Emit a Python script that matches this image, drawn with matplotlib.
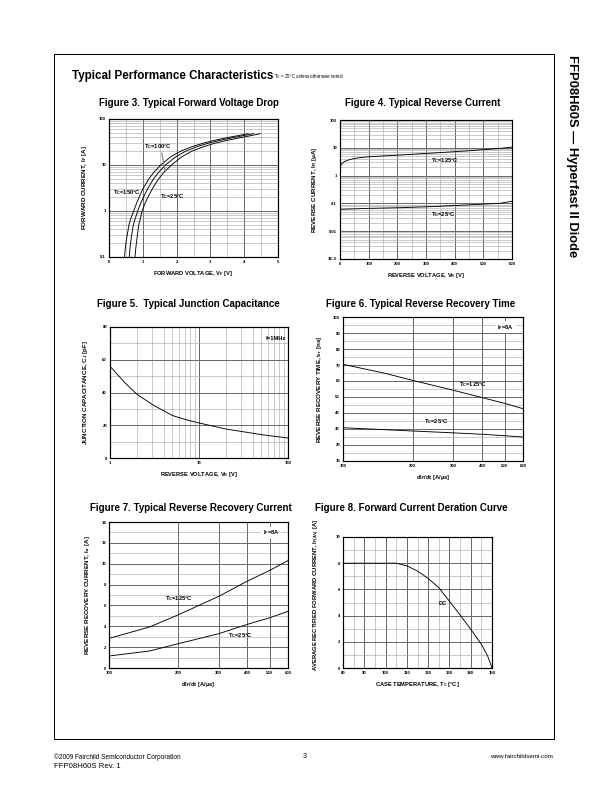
import matplotlib
matplotlib.use("Agg")
import matplotlib.pyplot as plt
from matplotlib.ticker import MultipleLocator, LogLocator, NullFormatter, NullLocator
from matplotlib.patches import Rectangle

plt.rcParams['font.family'] = ['Liberation Sans', 'DejaVu Sans']
plt.rcParams['mathtext.fontset'] = 'custom'
plt.rcParams['mathtext.rm'] = 'Liberation Sans'
plt.rcParams['mathtext.it'] = 'Liberation Sans'
plt.rcParams['mathtext.bf'] = 'Liberation Sans:bold'

# Figure 3: forward voltage drop
if_fwd = [0.1, 0.15, 0.2, 0.3, 0.5, 0.7, 1, 1.5, 2, 3, 4, 5, 7, 10, 15, 20, 25, 30, 35, 40, 45, 48]
vf_25 = [0.77, 0.79, 0.81, 0.84, 0.88, 0.93, 0.98, 1.07, 1.15, 1.28, 1.38, 1.47, 1.63, 1.85,
         2.15, 2.45, 2.8, 3.15, 3.55, 3.95, 4.3, 4.48]
vf_100 = [0.6, 0.62, 0.64, 0.67, 0.72, 0.78, 0.85, 0.94, 1.02, 1.14, 1.24, 1.32, 1.47, 1.67,
          1.97, 2.27, 2.6, 2.95, 3.33, 3.72, 4.08, 4.28]
vf_150 = [0.46, 0.48, 0.5, 0.54, 0.59, 0.65, 0.73, 0.82, 0.89, 1.0, 1.1, 1.18, 1.33, 1.53,
          1.82, 2.12, 2.45, 2.8, 3.17, 3.55, 3.92, 4.12]

# Figure 4: reverse current
vr_rev = [0, 5, 15, 35, 60, 93, 150, 209, 325, 441, 557, 600]
ir_125 = [2.1, 2.6, 3.2, 3.8, 4.3, 4.7, 5.1, 5.5, 6.5, 7.7, 9.5, 10.6]
ir_25 = [0.061, 0.061, 0.062, 0.063, 0.064, 0.066, 0.068, 0.07, 0.077, 0.088, 0.1, 0.12]

# Figure 5: junction capacitance
vr_cap = [1, 1.5, 2, 3, 5, 7, 10, 20, 50, 100]
cj = [56, 45.5, 39, 32.6, 26, 23.5, 21.4, 17.7, 14.3, 12.2]

# Figure 6: reverse recovery time
didt = [100, 150, 200, 300, 400, 500, 600]
trr_125 = [70.4, 65.0, 60.4, 54.2, 49.6, 46.0, 42.7]
trr_25 = [30.8, 29.6, 28.75, 27.6, 26.7, 25.8, 25.0]

# Figure 7: reverse recovery current
irr_125 = [2.84, 3.93, 5.1, 6.87, 8.34, 9.36, 10.3]
irr_25 = [1.15, 1.63, 2.33, 3.29, 4.19, 4.82, 5.43]

# Figure 8: forward current deration
tc = [80, 90, 100, 105, 110, 115, 120, 125, 130, 135, 140, 145, 148, 150]
if_av = [8, 8, 8, 8, 7.8, 7.4, 6.84, 6.13, 5.1, 4.05, 2.96, 1.82, 0.9, 0]

W, H = 612, 792
fig = plt.figure(figsize=(W / 72, H / 72), dpi=72)

MAJ = dict(color='#6a6a6a', lw=1.0)
MIN = dict(color='#a8a8a8', lw=0.6)


def make_ax(l, t, r, b):
    ax = fig.add_axes([l / W, 1 - b / H, (r - l) / W, (b - t) / H])
    ax.tick_params(which='both', length=0, labelsize=4.3, pad=3)
    for s in ax.spines.values():
        s.set_linewidth(1.2)
    ax.set_axisbelow(True)
    return ax


def finish(ax, xl, yl, xpad=5, ypad=8, yfs=6.2):
    ax.grid(which='major', **MAJ)
    ax.grid(which='minor', **MIN)
    ax.set_xlabel(xl, fontsize=5.8, fontweight='bold', labelpad=xpad)
    ax.set_ylabel(yl, fontsize=yfs, fontweight='bold', labelpad=ypad)
    for lbl in ax.get_xticklabels() + ax.get_yticklabels():
        lbl.set_fontweight('bold')


def title(x, y, s):
    fig.text(x / W, 1 - y / H, s, ha='center', va='center', fontsize=9.8, fontweight='bold')


lab = dict(fontsize=5.8, fontweight='bold', va='center')

# ---- Figure 3 ----
ax3 = make_ax(109, 119, 278, 257)
ax3.plot(vf_25, if_fwd, color='black', lw=0.9)
ax3.plot(vf_100, if_fwd, color='black', lw=0.9)
ax3.plot(vf_150, if_fwd, color='black', lw=0.9)
ax3.set_yscale('log')
ax3.set_xlim(0, 5)
ax3.set_ylim(0.1, 100)
ax3.set_xticks([0, 1, 2, 3, 4, 5])
ax3.set_yticks([0.1, 1, 10, 100])
ax3.set_yticklabels(['0.1', '1', '10', '100'])
ax3.xaxis.set_minor_locator(MultipleLocator(0.5))
ax3.yaxis.set_minor_locator(LogLocator(subs=range(2, 10)))
ax3.yaxis.set_minor_formatter(NullFormatter())
ax3.text(1.05, 25, r'T$_\mathbf{C}$=100°C', **lab)
ax3.text(0.12, 2.5, r'T$_\mathbf{C}$=150°C', **lab)
ax3.text(1.5, 2.1, r'T$_\mathbf{C}$=25°C', **lab)
ax3.annotate('', xy=(1.67, 6.8), xytext=(1.55, 20),
             arrowprops=dict(arrowstyle='-', color='#808080', lw=1.2))
finish(ax3, r'FORWARD VOLTAGE, V$_\mathbf{F}$ [V]', r'FORWARD CURRENT, I$_\mathbf{F}$ [A]', ypad=10)
title(189, 103, 'Figure 3. Typical Forward Voltage Drop')

# ---- Figure 4 ----
ax4 = make_ax(340, 120, 512, 259)
ax4.plot(vr_rev, ir_125, color='black', lw=0.9)
ax4.plot(vr_rev, ir_25, color='black', lw=0.9)
ax4.set_yscale('log')
ax4.set_xlim(0, 600)
ax4.set_ylim(1e-3, 100)
ax4.set_xticks(range(0, 601, 100))
ax4.set_yticks([1e-3, 0.01, 0.1, 1, 10, 100])
ax4.set_yticklabels(['1E-3', '0.01', '0.1', '1', '10', '100'])
ax4.xaxis.set_minor_locator(MultipleLocator(50))
ax4.yaxis.set_minor_locator(LogLocator(subs=range(2, 10)))
ax4.yaxis.set_minor_formatter(NullFormatter())
ax4.text(317, 3.5, r'T$_\mathbf{C}$=125°C', **lab)
ax4.text(317, 0.041, r'T$_\mathbf{C}$=25°C', **lab)
finish(ax4, r'REVERSE VOLTAGE, V$_\mathbf{R}$ [V]', r'REVERSE CURRENT, I$_\mathbf{R}$ [$\mathbf{\mu}$A]', ypad=9)
title(423, 103, 'Figure 4. Typical Reverse Current')

# ---- Figure 5 ----
ax5 = make_ax(110, 327, 288, 458)
ax5.plot(vr_cap, cj, color='black', lw=0.9)
ax5.set_xscale('log')
ax5.set_xlim(1, 100)
ax5.set_ylim(0, 80)
ax5.set_xticks([1, 10, 100])
ax5.set_xticklabels(['1', '10', '100'])
ax5.set_yticks(range(0, 81, 20))
ax5.xaxis.set_minor_locator(LogLocator(subs=range(2, 10)))
ax5.xaxis.set_minor_formatter(NullFormatter())
ax5.yaxis.set_minor_locator(MultipleLocator(10))
ax5.text(95, 73, 'f=1MHz', ha='right', **lab)
finish(ax5, r'REVERSE VOLTAGE, V$_\mathbf{R}$ [V]', r'JUNCTION CAPACITANCE, C$_\mathbf{J}$ [pF]', ypad=12)
title(188, 304, 'Figure 5.  Typical Junction Capacitance')

# ---- Figure 6 ----
ax6 = make_ax(343, 317, 523, 461)
ax6.plot(didt, trr_125, color='black', lw=0.9)
ax6.plot(didt, trr_25, color='black', lw=0.9)
ax6.set_xscale('log')
ax6.set_xlim(100, 600)
ax6.set_ylim(10, 100)
ax6.set_xticks([100, 200, 300, 400, 500, 600])
ax6.set_xticklabels(['100', '200', '300', '400', '500', '600'])
ax6.xaxis.set_minor_locator(NullLocator())
ax6.set_yticks(range(10, 101, 10))
ax6.yaxis.set_minor_locator(MultipleLocator(5))
ax6.text(316, 57.9, r'T$_\mathbf{C}$=125°C', **lab)
ax6.text(224, 34.8, r'T$_\mathbf{C}$=25°C', **lab)
ax6.text(465, 93.7, r'I$_\mathbf{F}$=8A', bbox=dict(facecolor='white', edgecolor='none', pad=1.5), **lab)
finish(ax6, r'dI$_\mathbf{F}$/dt [A/$\mathbf{\mu}$s]', r'REVERSE RECOVERY TIME, t$_\mathbf{rr}$ [ns]', ypad=9)
title(421, 304, 'Figure 6. Typical Reverse Recovery Time')

# ---- Figure 7 ----
ax7 = make_ax(109, 522, 288, 668)
ax7.plot(didt, irr_125, color='black', lw=0.9)
ax7.plot(didt, irr_25, color='black', lw=0.9)
ax7.set_xscale('log')
ax7.set_xlim(100, 600)
ax7.set_ylim(0, 14)
ax7.set_xticks([100, 200, 300, 400, 500, 600])
ax7.set_xticklabels(['100', '200', '300', '400', '500', '600'])
ax7.xaxis.set_minor_locator(NullLocator())
ax7.set_yticks(range(0, 15, 2))
ax7.yaxis.set_minor_locator(MultipleLocator(1))
ax7.text(176, 6.65, r'T$_\mathbf{C}$=125°C', **lab)
ax7.text(329, 3.13, r'T$_\mathbf{C}$=25°C', **lab)
ax7.text(467, 12.97, r'I$_\mathbf{F}$=8A', bbox=dict(facecolor='white', edgecolor='none', pad=1.5), **lab)
finish(ax7, r'dI$_\mathbf{F}$/dt [A/$\mathbf{\mu}$s]', r'REVERSE RECOVERY CURRENT, I$_\mathbf{rr}$ [A]', ypad=9)
title(191, 508, 'Figure 7. Typical Reverse Recovery Current')

# ---- Figure 8 ----
ax8 = make_ax(343, 537, 492, 668)
ax8.plot(tc, if_av, color='black', lw=0.9)
ax8.set_xlim(80, 150)
ax8.set_ylim(0, 10)
ax8.set_xticks(range(80, 151, 10))
ax8.set_yticks(range(0, 11, 2))
ax8.xaxis.set_minor_locator(MultipleLocator(5))
ax8.yaxis.set_minor_locator(MultipleLocator(1))
ax8.text(124.8, 4.9, 'DC', **lab)
finish(ax8, r'CASE TEMPERATURE, T$_\mathbf{C}$ [°C]',
       r'AVERAGE RECTIFIED FORWARD CURRENT, I$_\mathbf{F(AV)}$ [A]', ypad=12, yfs=5.9)
ax8.yaxis.set_label_coords(-0.14, 0.56)
title(411, 508, 'Figure 8. Forward Current Deration Curve')

# ---- page furniture ----
fig.patches.append(Rectangle((54 / W, 1 - 739 / H), 500 / W, 685 / H, transform=fig.transFigure,
                             fill=False, edgecolor='black', lw=1))
fig.text(72 / W, 1 - 76 / H, 'Typical Performance Characteristics', fontsize=11.6,
         fontweight='bold', va='center')
fig.text(274 / W, 1 - 77 / H, r'T$_\mathrm{C}$ = 25°C unless otherwise noted', fontsize=4.5, va='center')
fig.text(572 / W, 1 - 156 / H, 'FFP08H60S — Hyperfast II Diode', rotation=-90, ha='center',
         va='center', fontsize=13, fontweight='bold')
fig.text(54 / W, 1 - 757 / H, '©2009 Fairchild Semiconductor Corporation', fontsize=6.5, va='center')
fig.text(54 / W, 1 - 767 / H, 'FFP08H60S Rev. 1', fontsize=7.8, va='center')
fig.text(305 / W, 1 - 757 / H, '3', fontsize=7, va='center', ha='center')
fig.text(553 / W, 1 - 757 / H, 'www.fairchildsemi.com', fontsize=6.3, va='center', ha='right')

fig.savefig('out.png', dpi=72)
